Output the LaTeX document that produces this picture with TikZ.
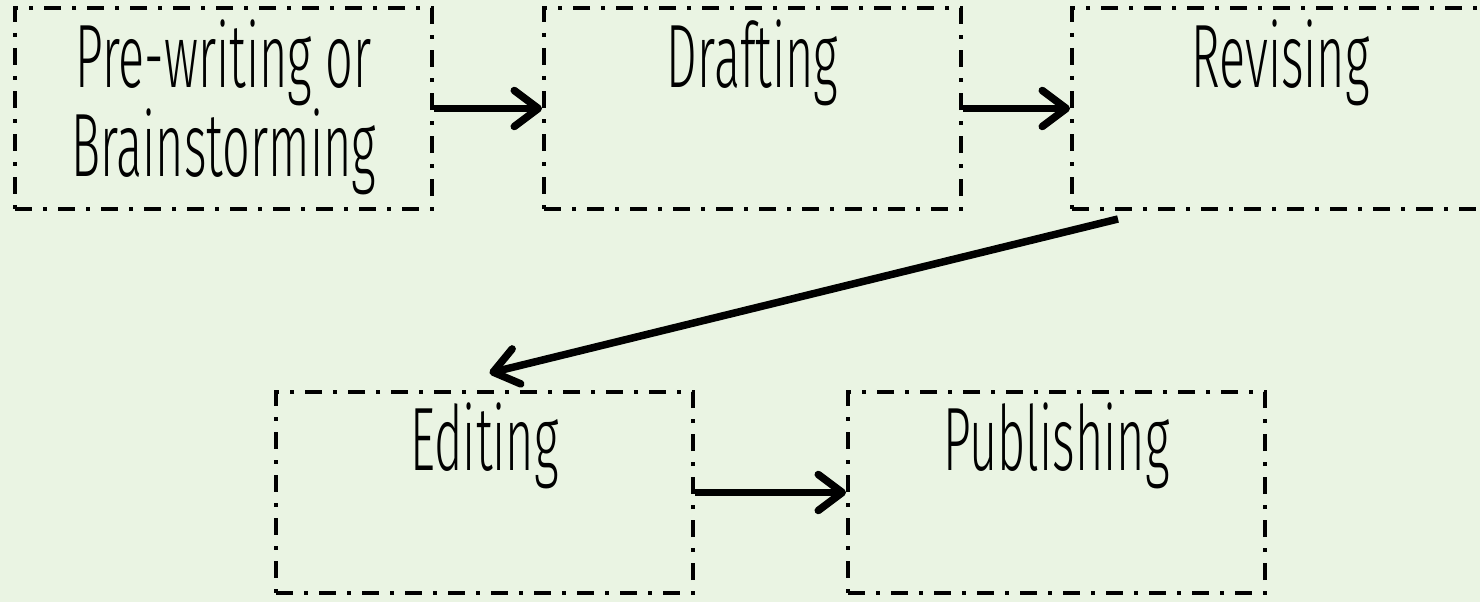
\documentclass[tikz,border=0pt]{standalone}
\usepackage{fontspec}
\newfontfamily\hand{Fira Sans Light}[FakeStretch=0.54]
\usetikzlibrary{arrows.meta,calc}
\definecolor{bg}{RGB}{234,244,227}
\begin{document}
\begin{tikzpicture}[x=1pt,y=-1pt,
  box/.style={draw=black, line width=4pt, dash pattern=on 17pt off 11pt on 4pt off 11pt,
    minimum width=417pt, minimum height=201pt, inner sep=0pt, anchor=north west},
  lbl/.style={font=\hand\fontsize{90}{96}\selectfont, anchor=base, inner sep=0pt},
  arr/.style={line width=7.5pt, -{Straight Barb[length=24pt,width=36pt,round]}}]
\fill[bg] (0,0) rectangle (1480,602);
\useasboundingbox (0,0) rectangle (1480,602);
\node[box] (pre) at (13,6) {};
\node[box] (dra) at (542,6) {};
\node[box] (rev) at (1070,6) {};
\node[box] (edi) at (274,390) {};
\node[box] (pub) at (846,390) {};
\node[lbl] (preA) at ($(pre.north)+(0,81)$) {Pre-writing or};
\node[lbl] (preB) at ($(pre.north)+(0,170)$) {Brainstorming};
\node[lbl] (draT) at ($(dra.north)+(0,82)$) {Drafting};
\node[lbl] (revT) at ($(rev.north)+(0,82)$) {Revising};
\node[lbl] (ediT) at ($(edi.north)+(0,80)$) {Editing};
\node[lbl] (pubT) at ($(pub.north)+(0,80)$) {Publishing};
\coordinate (dStart) at ($(rev.south west)+(48,8)$);
\coordinate (dEnd) at ($(edi.north)+(5,-17)$);
\draw[arr] (pre.east) -- (dra.west);
\draw[arr] (dra.east) -- (rev.west);
\draw[arr] (dStart) -- (dEnd);
\draw[arr] (edi.east) -- (pub.west);
\end{tikzpicture}
\end{document}
